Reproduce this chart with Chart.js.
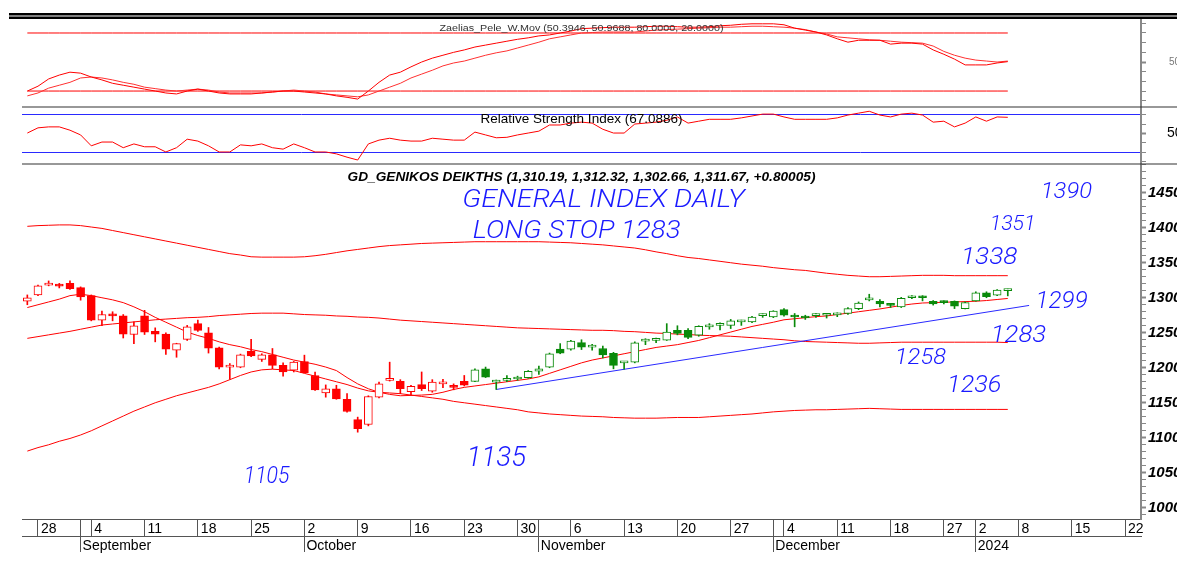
<!DOCTYPE html>
<html>
<head>
<meta charset="utf-8">
<title>GD_GENIKOS DEIKTHS daily</title>
<script src="https://cdn.jsdelivr.net/npm/chart.js@4/dist/chart.umd.min.js"></script>
<style>
  html, body { margin: 0; padding: 0; background: #fff; }
  canvas { display: block; }
</style>
</head>
<body>
<canvas id="chart" width="1177" height="566"></canvas>
<script>
// trading days shown on the axis (data runs to 2024-01-05, the rest is empty space)
const dates = [
  '2023-08-25','2023-08-28','2023-08-29','2023-08-30','2023-08-31','2023-09-01',
  '2023-09-04','2023-09-05','2023-09-06','2023-09-07','2023-09-08',
  '2023-09-11','2023-09-12','2023-09-13','2023-09-14','2023-09-15',
  '2023-09-18','2023-09-19','2023-09-20','2023-09-21','2023-09-22',
  '2023-09-25','2023-09-26','2023-09-27','2023-09-28','2023-09-29',
  '2023-10-02','2023-10-03','2023-10-04','2023-10-05','2023-10-06',
  '2023-10-09','2023-10-10','2023-10-11','2023-10-12','2023-10-13',
  '2023-10-16','2023-10-17','2023-10-18','2023-10-19','2023-10-20',
  '2023-10-23','2023-10-24','2023-10-25','2023-10-26','2023-10-27',
  '2023-10-30','2023-10-31','2023-11-01','2023-11-02','2023-11-03',
  '2023-11-06','2023-11-07','2023-11-08','2023-11-09','2023-11-10',
  '2023-11-13','2023-11-14','2023-11-15','2023-11-16','2023-11-17',
  '2023-11-20','2023-11-21','2023-11-22','2023-11-23','2023-11-24',
  '2023-11-27','2023-11-28','2023-11-29','2023-11-30','2023-12-01',
  '2023-12-04','2023-12-05','2023-12-06','2023-12-07','2023-12-08',
  '2023-12-11','2023-12-12','2023-12-13','2023-12-14','2023-12-15',
  '2023-12-18','2023-12-19','2023-12-20','2023-12-21','2023-12-22',
  '2023-12-27','2023-12-28','2023-12-29',
  '2024-01-02','2024-01-03','2024-01-04','2024-01-05',
  '2024-01-08','2024-01-09','2024-01-10','2024-01-11','2024-01-12',
  '2024-01-15','2024-01-16','2024-01-17','2024-01-18','2024-01-19',
  '2024-01-22','2024-01-23'
];
const dayTicks = ['2023-08-28','2023-09-04','2023-09-11','2023-09-18','2023-09-25','2023-10-02','2023-10-09',
  '2023-10-16','2023-10-23','2023-10-30','2023-11-06','2023-11-13','2023-11-20','2023-11-27','2023-12-04',
  '2023-12-11','2023-12-18','2023-12-27','2024-01-02','2024-01-08','2024-01-15','2024-01-22'];
const monthTicks = [['2023-09-01','September'],['2023-10-02','October'],['2023-11-01','November'],
  ['2023-12-01','December'],['2024-01-02','2024']];
const trendFlip = '2023-10-24';   // candles turn green from here

const open = [1295,1304,1318,1317,1320.5,1314.5,1303,1268,1276,1274,
  1247.5,1274,1252,1248,1225,1240.5,1263,1250,1228.5,1201,
  1201,1223.5,1212,1218.5,1203.5,1196.5,1209,1189,1164,1170,
  1155,1126,1119,1158,1182,1180.5,1166,1176,1166.5,1177,
  1172.5,1180.5,1180.5,1198.5,1179.5,1182,1184,1186,1195,1201,
  1226.5,1226.5,1236,1229.5,1227.5,1220.5,1207,1208,1238,1239,
  1239.5,1253.5,1253.5,1246.5,1258.5,1260.5,1260.5,1265.5,1265.5,1274.5,
  1272.5,1283,1273,1273.5,1274.5,1275,1275.5,1277.5,1284.5,1297,
  1295,1289.5,1287,1300,1302.5,1295,1293.5,1295,1284.5,1295.5,
  1307,1303.5,1310.19];
const high = [1304,1318,1324,1320.5,1324,1315.5,1304,1281,1280,1276,
  1265.5,1282,1257,1250,1235,1260.5,1268,1257.5,1229.5,1206,
  1219.5,1240.5,1220,1227.5,1207,1209,1218,1194,1175.5,1175,
  1163,1129.5,1160,1179.5,1208,1183,1175,1194,1183,1183.5,
  1177,1189,1198.5,1201,1182.5,1189,1188,1196,1202.5,1221,
  1234.5,1239,1240,1233.5,1231,1222,1208.5,1237,1241.5,1242.5,
  1263,1260,1256,1260,1263,1264,1269,1268,1273.5,1277,
  1281.5,1284.5,1277.5,1275,1277.5,1277.5,1278.5,1286,1294,1305,
  1297.5,1292,1300.5,1303,1303,1296,1295.5,1295.5,1294,1308.5,
  1308.5,1311.5,1312.32];
const low = [1290,1303,1317,1314,1312,1296.5,1267,1260,1267,1242.5,
  1234.5,1247.5,1237,1219,1215,1239,1252,1221,1198.5,1183.5,
  1200,1216,1209,1198.5,1188,1194,1192.5,1167.5,1158,1155,
  1136.5,1108,1117,1157,1181,1163,1161.5,1167.5,1165,1171.5,
  1168.5,1174,1180,1186,1169,1180,1182,1185,1190.5,1200,
  1220,1225,1226,1225,1214,1198.5,1198,1207,1233,1236,
  1239,1247,1241.5,1245,1255,1254,1256,1260.5,1264.5,1272,
  1271.5,1273.5,1258.5,1269,1272,1271,1273,1276,1283,1295.5,
  1287,1286,1286,1298.5,1295.5,1289.5,1291,1284.5,1284,1295,
  1300,1303,1302.66];
const close = [1300,1317,1319,1316.5,1313,1301,1268,1276,1274,1248,
  1260,1251,1248,1226.5,1234.5,1258.5,1253.5,1228,1201,1201.5,
  1218.5,1217,1218.5,1203.5,1194,1208,1193,1168.5,1170,1155.5,
  1137.5,1113,1159,1177,1184,1170,1173.5,1170,1179.5,1179.5,
  1172,1175,1197,1186.5,1180,1182.5,1186.5,1195,1198.5,1220,
  1221,1238,1229.5,1230,1218.5,1203.5,1207.5,1235.5,1239,1239.5,
  1251,1249,1243.5,1259,1260.5,1261,1267,1266,1272.5,1275,
  1281,1275,1272.5,1271,1275,1275.5,1276.5,1284.5,1292.5,1297.5,
  1291,1289,1299,1301,1300,1291,1293,1288,1293,1307,
  1301.5,1311,1311.67];

const bandUpper = [1402,1403,1403.5,1404,1404,1403,1401,1399,1396,1393,
  1390,1387,1384,1381,1378,1375,1372,1369,1366,1363,
  1361,1358.5,1358,1358,1358,1358,1358.5,1360,1362,1364.5,
  1367,1369,1371,1373,1374.5,1375.5,1376.5,1377.5,1378,1378.5,
  1379,1379.5,1380,1380,1380,1380,1380,1380,1380,1379.5,
  1379,1378.5,1377.5,1376.5,1375.5,1374,1372.5,1371,1368.5,1365.5,
  1363,1360,1357.5,1356,1354,1352,1350,1348,1346.5,1345,
  1343,1341.5,1340,1339,1337,1335,1333.5,1332,1331,1330,
  1330,1330.5,1331,1331.5,1332,1332,1332,1331.5,1331.5,1331.5,
  1331.5,1331.5,1331.5];
const bandMid = [1242,1244.5,1247,1249.5,1252,1255,1258,1261,1262.5,1264,
  1265.5,1267,1268.5,1269.5,1270.5,1271.5,1272,1273,1274.5,1275.5,
  1276.5,1277.5,1278,1278,1278,1277,1276,1275.5,1275,1274,
  1273.5,1272.5,1272,1271,1269.5,1268,1267,1266,1265,1264,
  1263,1262,1261,1260,1259,1258,1257,1256.5,1256,1255.5,
  1255,1254.5,1254,1253.5,1253.5,1253,1252,1251.5,1250.5,1249.5,
  1249,1248,1247.5,1246.5,1246,1245.5,1245,1244,1243,1242,
  1241,1240,1238.5,1237.5,1237,1236.5,1236,1235.5,1235,1235,
  1235.5,1236,1236.5,1236.5,1236.5,1236.5,1236.5,1236.5,1236.5,1236.5,
  1236.5,1236.5,1236];
const bandLower = [1081,1086,1090,1095,1099,1104,1110,1117,1124,1131,
  1138,1144,1150,1155,1160,1164,1168,1172,1177,1183,
  1189,1194,1197,1198,1197,1196,1192,1188,1184,1180,
  1176,1171,1167,1165,1164,1163,1161,1159,1157,1155,
  1152,1150,1148,1146,1144,1142,1140,1137,1135.5,1134,
  1133,1132,1131,1130.5,1130,1129,1128.5,1128,1128,1128,
  1128.5,1129,1129,1129,1130,1131,1132,1133,1134,1135.5,
  1137,1138,1139,1139.5,1140,1140,1140.5,1141,1141.5,1142,
  1141.5,1141,1140.5,1140.5,1140.5,1140.5,1140.5,1140.5,1140.5,1140.5,
  1140.5,1140.5,1140.5];
const movAvg = [1286,1290,1294,1298,1303,1305,1303,1300,1297,1293,
  1287,1280,1272,1265,1258,1251,1246,1242,1237,1233,
  1230,1226,1223,1219,1215,1211,1208,1205,1201,1196,
  1186,1177,1170,1165,1162,1160,1160.5,1161,1162,1165,
  1169,1172,1174,1176,1178,1180,1182,1184,1187,1192,
  1197,1202,1207,1211,1214,1217,1220,1223,1226,1229,
  1231,1233,1236,1239,1243,1247,1251,1255,1259,1262,
  1265,1268.5,1270,1271.5,1273,1274,1276,1278,1280,1282,
  1284,1286.5,1289,1291,1292.5,1293,1293.5,1294,1294.5,1295,
  1296,1297.5,1299];
const trendLine = [['2023-10-26', 1169], ['2024-01-09', 1289]];

const stochFast = [20,25,32.5,36.5,39.5,38.5,34.5,31.5,28,26,
  24,22,20,18,17,20,22,20,18,17,
  17,17,18,19,20,20,19,18,17,15,
  13.5,11.7,20,29,36.5,39.5,45,50,54,57,
  60,62.5,65.5,67.5,69.5,71.5,73.5,75,77,78,
  80,82,84.5,85,85.5,86,86,86,86.5,87,
  87,86.5,86,86,86.5,87.5,88,89,89.5,89.5,
  89.5,88.5,85,83,81,78,74,70.5,72.5,72.5,
  72.5,68.5,69.5,69.5,68.5,62.5,58,53,47,47,
  47,49,50.4];
const stochSlow = [15,18,23,26,29,33.5,34.5,33.5,31.5,29,
  27,24,22.5,21,20,21,22,21,19,18,
  18,18,18,19,20,21,20,19,17,16,
  15,14,16,20,24,28,33.5,37.5,41.5,46,
  49,51,54,57,59.5,61.5,64.5,67.5,70.5,74,
  76,78,80,80.5,81,81,81,81,82,83,
  83.5,84,84.5,85,85.5,86,86,86.5,87,87,
  86.5,86,85,83.5,81,79,76,75,74,73,
  72.5,71.5,70.5,70,69.5,66.5,61,57,54,52,
  51,50,51];
const stochLevels = [80, 20];
const rsi = [50.5,56,57,57,53.5,48.5,37,41,41,35,
  39,36,36,30.5,35,44,42,37,30.5,30.5,
  38,37,39,35,33.5,39,35,30.5,30.5,28.5,
  25,22,39,43,45,43,42,42,45,44,
  43,43,51.5,48.5,45.5,46,48.5,50.5,52.5,59,
  59,61,62,61,54.5,50.5,50.5,60,61,62,
  64,67.5,61,63,65,65,65,66.5,68.5,70.5,
  70.5,67.5,65,65,65,65,66.5,69.5,71.5,73.5,
  69.5,67.5,70.5,71.5,69.5,62,63,57,61,67.5,
  63,67.5,67.1];
const rsiLevels = [70, 30];

const stochTitle = 'Zaelias_Pele_W.Mov (50.3946, 50.9688, 80.0000, 20.0000)';
const rsiTitle = 'Relative Strength Index (67.0886)';
const priceTitle = 'GD_GENIKOS DEIKTHS (1,310.19, 1,312.32, 1,302.66, 1,311.67, +0.80005)';
// hand-written notes: text, from/to bar index, top/baseline price
const notes = [
  ['GENERAL INDEX DAILY', 40.8, 67.3, 1455, 1429],
  ['LONG STOP 1283', 41.8, 61.3, 1412, 1385],
  ['1390', 95.1, 99.9, 1464, 1442],
  ['1351', 90.3, 94.6, 1418, 1397],
  ['1338', 87.6, 92.9, 1372, 1348],
  ['1299', 94.6, 99.5, 1309, 1285],
  ['1283', 90.4, 95.6, 1261, 1237],
  ['1258', 81.4, 86.2, 1228, 1205],
  ['1236', 86.3, 91.4, 1190, 1166],
  ['1135', 41.2, 46.8, 1088, 1060],
  ['1105', 20.3, 24.6, 1059, 1035]
];

const FONT = '"Liberation Sans", Arial, sans-serif';
const RED = '#ff0000', GREEN = '#0a8a0a', BLUE = '#2a2aff', AXIS = '#555';
const col = i => (dates[i] < trendFlip ? RED : GREEN);
const dayIdx = new Set(dayTicks.map(d => dates.indexOf(d)));
const monthIdx = new Map(monthTicks.map(([d, t]) => [dates.indexOf(d), t]));

function line(data, axis, color, order, extra) {
  return Object.assign({ type: 'line', data, yAxisID: axis, borderColor: color, borderWidth: 1,
    pointRadius: 0, tension: 0, fill: false, order }, extra || {});
}

function fitText(ctx, text, left, right, base, capH, font, color) {
  ctx.font = font.replace('{s}', (capH / 0.72).toFixed(1) + 'px');
  const w = ctx.measureText(text).width;
  ctx.save();
  ctx.translate(left, base);
  ctx.scale((right - left) / w, 1);
  ctx.fillStyle = color;
  ctx.textAlign = 'left';
  ctx.textBaseline = 'alphabetic';
  ctx.fillText(text, 0, 0);
  ctx.restore();
}

// keep axis label overhang from pushing the plot area around
function noPad(sc) { sc.paddingTop = 0; sc.paddingBottom = 0; sc.paddingLeft = 0; sc.paddingRight = 0; }

const decor = {
  id: 'decor',
  afterDraw(chart) {
    const { ctx, chartArea: a, scales: s } = chart;
    const w = chart.width, cx = (a.left + a.right) / 2;
    ctx.save();
    ctx.fillStyle = '#000';
    ctx.fillRect(9, a.top - 5, w - 9, 2.5);
    ctx.fillRect(9, a.top - 1.5, w - 9, 2.5);
    ctx.fillStyle = '#333';
    ctx.fillRect(a.left, Math.round(s.ys.bottom) - 0.5, w - a.left, 1);
    ctx.fillRect(a.left, Math.round(s.yr.bottom) - 0.5, w - a.left, 1);
    fitText(ctx, stochTitle, cx - 142, cx + 142, s.ys.top + 13, 7, '{s} ' + FONT, '#333');
    fitText(ctx, rsiTitle, cx - 101, cx + 101, s.yr.top + 15.5, 9.5, '{s} ' + FONT, '#000');
    fitText(ctx, priceTitle, cx - 234, cx + 234, s.yp.top + 17, 9, 'italic bold {s} ' + FONT, '#000');
    for (const [t, i0, i1, pTop, pBase] of notes) {
      const x0 = s.x.getPixelForValue(i0), x1 = s.x.getPixelForValue(i1);
      const yt = s.yp.getPixelForValue(pTop), yb = s.yp.getPixelForValue(pBase);
      fitText(ctx, t, x0, x1, yb, yb - yt, 'italic 300 {s} Roboto, ' + FONT, '#1a1aff');
    }
    ctx.restore();
  }
};

const trendData = dates.map(d => { const p = trendLine.find(t => t[0] === d); return p ? p[1] : null; });

const yBase = (weight, min, max) => ({
  type: 'linear', position: 'right', stack: 'panels', stackWeight: weight, min, max,
  border: { display: true, color: '#888', width: 2 },
  afterFit: sc => { sc.width = 36; noPad(sc); }
});
const isMajor = (c, step) => c.tick && Math.abs(c.tick.value % step) < 1e-6;

new Chart(document.getElementById('chart'), {
  type: 'bar',
  data: {
    labels: dates,
    datasets: [
      { type: 'bar', label: 'body', order: 1, yAxisID: 'yp', grouped: false,
        data: close.map((c, i) => [open[i], c]),
        backgroundColor: close.map((c, i) => c >= open[i] ? '#ffffff' : col(i)),
        borderColor: close.map((c, i) => col(i)),
        borderWidth: 1, borderSkipped: false, barThickness: 8, minBarLength: 2 },
      { type: 'bar', label: 'wick', order: 2, yAxisID: 'yp', grouped: false,
        data: high.map((h, i) => [low[i], h]),
        backgroundColor: close.map((c, i) => col(i)), borderWidth: 0, barThickness: 1 },
      line(movAvg, 'yp', RED, 3),
      line(bandUpper, 'yp', RED, 4),
      line(bandMid, 'yp', RED, 4),
      line(bandLower, 'yp', RED, 4),
      line(trendData, 'yp', BLUE, 3, { spanGaps: true }),
      line(stochFast, 'ys', RED, 3),
      line(stochSlow, 'ys', '#ff3030', 3),
      ...stochLevels.map(v => line(close.map(() => v), 'ys', RED, 4)),
      line(rsi, 'yr', RED, 3)
    ]
  },
  options: {
    responsive: false, devicePixelRatio: 1, animation: false, events: [],
    layout: { padding: { top: 18, left: 22, right: 0, bottom: 12 } },
    plugins: { legend: { display: false }, tooltip: { enabled: false } },
    scales: {
      x: { type: 'category', position: 'bottom', offset: true, weight: 0,
        grid: { drawOnChartArea: false, offset: false, tickLength: 17,
          tickColor: c => (c.tick && (dayIdx.has(c.tick.value) || monthIdx.has(c.tick.value))) ? AXIS : 'transparent' },
        border: { display: true, color: AXIS, width: 1 },
        ticks: { autoSkip: false, maxRotation: 0, minRotation: 0, align: 'start', labelOffset: 3, padding: -15,
          color: '#000', font: { family: FONT, size: 14 },
          callback: v => dayIdx.has(v) ? String(+dates[v].slice(8)) : '' },
        afterFit: sc => { sc.height = 17; noPad(sc); } },
      x2: { type: 'category', position: 'bottom', offset: true, weight: 1,
        grid: { drawOnChartArea: false, offset: false, tickLength: 16,
          tickColor: c => (c.tick && monthIdx.has(c.tick.value)) ? AXIS : 'transparent' },
        border: { display: true, color: AXIS, width: 1 },
        ticks: { autoSkip: false, maxRotation: 0, minRotation: 0, align: 'start', labelOffset: 2, padding: -14,
          color: '#000', font: { family: FONT, size: 14 },
          callback: v => monthIdx.get(v) || '' },
        afterFit: sc => { sc.height = 18; noPad(sc); } },
      ys: Object.assign(yBase(89, 3.5, 95.5), {
        grid: { drawOnChartArea: false, tickLength: 5,
          tickColor: c => isMajor(c, 10) ? '#888' : 'transparent',
          tickWidth: c => isMajor(c, 50) ? 2 : 1 },
        ticks: { autoSkip: false, includeBounds: false, stepSize: 10, padding: 23, color: '#777', font: { family: FONT, size: 10 },
          callback: v => v === 50 ? '50' : '' } }),
      yr: Object.assign(yBase(57, 17.8, 78.0), {
        grid: { drawOnChartArea: true, tickLength: 5,
          color: c => (c.tick && rsiLevels.includes(c.tick.value)) ? BLUE : 'transparent',
          tickColor: c => isMajor(c, 10) ? '#888' : 'transparent',
          tickWidth: c => isMajor(c, 50) ? 2 : 1 },
        ticks: { autoSkip: false, includeBounds: false, stepSize: 10, padding: 21, color: '#000', font: { family: FONT, size: 14 },
          callback: v => v === 50 ? '50' : '' } }),
      yp: Object.assign(yBase(355, 984, 1491), {
        grid: { drawOnChartArea: false, tickLength: 5,
          tickColor: c => isMajor(c, 10) ? '#888' : 'transparent',
          tickWidth: c => isMajor(c, 50) ? 2 : 1 },
        ticks: { autoSkip: false, includeBounds: false, stepSize: 10, padding: 2, color: '#000', font: { family: FONT, size: 15, style: 'italic', weight: 'bold' },
          callback: v => v % 50 === 0 ? String(v) : '' } })
    }
  },
  plugins: [decor]
});
</script>
</body>
</html>
